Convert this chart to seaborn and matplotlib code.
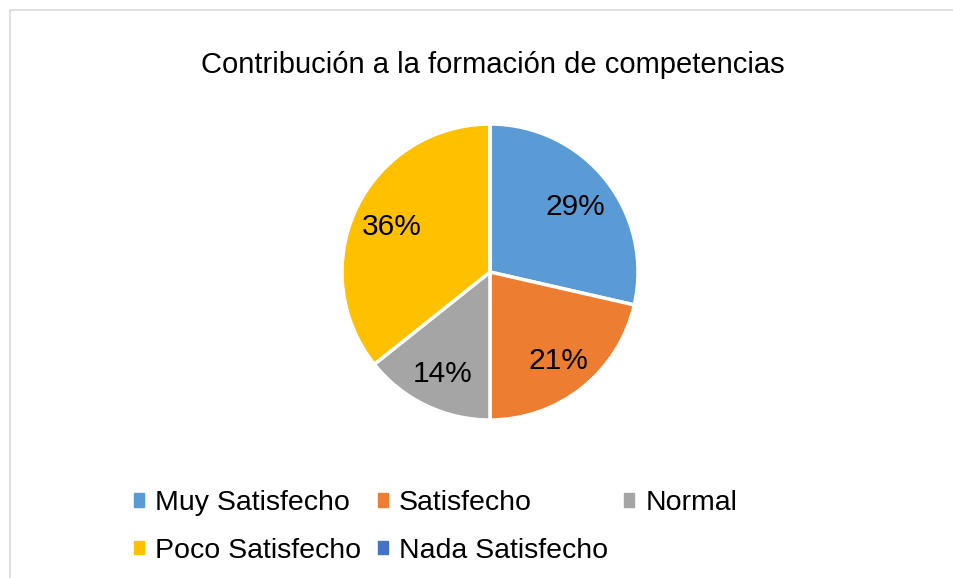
import matplotlib
matplotlib.use("Agg")
import matplotlib.pyplot as plt
import matplotlib.patches as mpatches
import seaborn as sns

# Data
categories = ["Muy Satisfecho", "Satisfecho", "Normal", "Poco Satisfecho", "Nada Satisfecho"]
counts = [4, 3, 2, 5, 0]
title = "Contribución a la formación de competencias"

sns.set_theme(style="white")
plt.rcParams['font.family'] = ['Liberation Sans', 'DejaVu Sans']
plt.rcParams['text.color'] = 'black'

colors = ["#5B9BD5", "#ED7D31", "#A5A5A5", "#FFC000", "#4472C4"]
palette = sns.color_palette(colors)

W, H = 954, 578
fig = plt.figure(figsize=(W / 100, H / 100), dpi=100)

# pie axes placed so the circle lands where the reference has it
cx, cy, r = 490, 272, 148
ax = fig.add_axes([(cx - r) / W, (H - cy - r) / H, 2 * r / W, 2 * r / H])

wedges, texts, autotexts = ax.pie(
    counts, colors=palette, startangle=90, counterclock=False,
    autopct=lambda p: f"{p:.0f}%" if p > 0 else "",
    pctdistance=0.74,
    wedgeprops=dict(edgecolor="white", linewidth=2.5),
    textprops=dict(fontsize=21.5, color="black"))
for t in autotexts:
    t.set_va("center_baseline")
ax.set_xlim(-1, 1)
ax.set_ylim(-1, 1)
ax.axis("off")

fig.text(493 / W, 1 - 62 / H, title, ha="center", va="center_baseline",
         fontsize=21, color="black")

# legend, reordered so it reads row by row like the reference
order = [0, 3, 1, 4, 2]
handles = [mpatches.Patch(color=palette[i]) for i in order]
labels = [categories[i] for i in order]
fig.legend(handles, labels, ncol=3, loc="upper left",
           bbox_to_anchor=(134 / W, 1 - 490 / H), frameon=False,
           fontsize=20.5, handlelength=0.35, handleheight=0.35,
           handletextpad=0.39, columnspacing=0.58, labelspacing=0.76,
           borderpad=0, borderaxespad=0)

# thin grey chart border
fig.patches.append(mpatches.Rectangle((10 / W, -0.1), 1.2, 1 - 10 / H + 0.1,
                                      transform=fig.transFigure, fill=False,
                                      edgecolor="#D9D9D9", linewidth=1.2))

fig.savefig("out.png", dpi=100, facecolor="white")
